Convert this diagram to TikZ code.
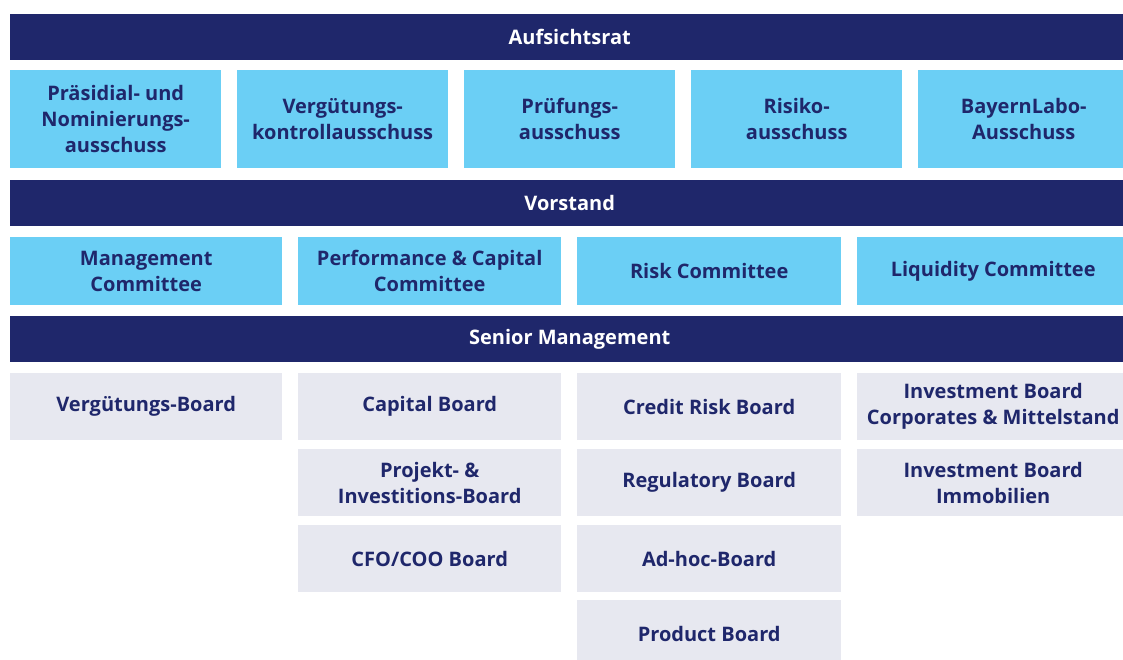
\documentclass[tikz,border=0pt]{standalone}
\usepackage{fontspec}
\setmainfont{Open Sans}

\definecolor{navy}{HTML}{1F276B}
\definecolor{sky}{HTML}{6BCFF5}
\definecolor{mist}{HTML}{E7E8F0}

\tikzset{
	box/.style={anchor=north west, inner sep=0pt, align=center,
		font=\bfseries\fontsize{20}{26}\selectfont},
	bar/.style={box, fill=navy, text=white, minimum width=1119pt, minimum height=46pt},
	ausschuss/.style={box, fill=sky, text=navy, minimum width=211pt, minimum height=98pt},
	committee/.style={box, fill=sky, text=navy, minimum height=68pt},
	board/.style={box, fill=mist, text=navy, minimum height=67pt},
}

\begin{document}
\begin{tikzpicture}[x=1pt, y=-1pt]
	\useasboundingbox (0,0) rectangle (1123,660);

	% the three bars
	\node[bar] (aufsicht) at (10,14) {Aufsichtsrat};
	\node[bar] (vorstand) at (10,180) {Vorstand};
	\node[bar] (senior) at (10,316) {Senior Management};

	% Ausschuesse
	\foreach \i / \x / \txt in {
	1/10/{Präsidial- und\\Nominierungs-\\ausschuss},
	2/237/{Vergütungs-\\kontrollausschuss},
	3/464/{Prüfungs-\\ausschuss},
	4/691/{Risiko-\\ausschuss},
	5/918/{BayernLabo-\\Ausschuss}}
	{
		\node[ausschuss] (a\i) at (\x,70) {\txt};
	};

	% Committees
	\foreach \i / \x / \w / \txt in {
	1/10/272/{Management\\Committee},
	2/298/263/{Performance \& Capital\\Committee},
	3/577/264/{Risk Committee},
	4/857/272/{Liquidity Committee}}
	{
		\node[committee, minimum width=\w pt] (c\i) at (\x,237) {\txt};
	};

	% Boards, column by column
	\node[board, minimum width=272pt] (b11) at (10,373) {Vergütungs-Board};

	\node[board, minimum width=263pt] (b21) at (298,373) {Capital Board};
	\node[board, minimum width=263pt] (b22) at (298,449) {Projekt- \&\\Investitions-Board};
	\node[board, minimum width=263pt] (b23) at (298,525) {CFO/COO Board};

	\node[board, minimum width=264pt] (b31) at (577,373) {Credit Risk Board};
	\node[board, minimum width=264pt] (b32) at (577,449) {Regulatory Board};
	\node[board, minimum width=264pt] (b33) at (577,525) {Ad-hoc-Board};
	\node[board, minimum width=264pt] (b34) at (577,600) {Product Board};

	\node[board, minimum width=272pt] (b41) at (857,373) {Investment Board\\Corporates \& Mittelstand};
	\node[board, minimum width=272pt] (b42) at (857,449) {Investment Board\\Immobilien};
\end{tikzpicture}
\end{document}
